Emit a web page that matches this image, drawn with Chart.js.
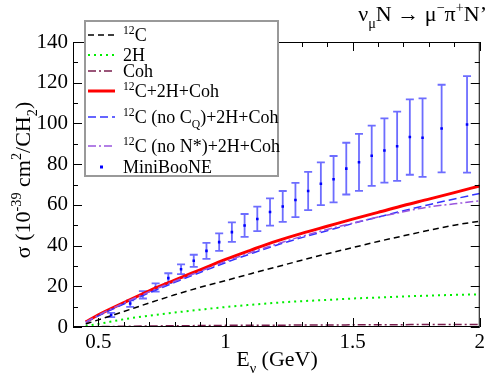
<!DOCTYPE html>
<html>
<head>
<meta charset="utf-8">
<script src="https://cdn.jsdelivr.net/npm/chart.js@4"></script>
<style>
  body { margin: 0; background: #fff; }
  #wrap { width: 488px; height: 382px; position: relative; }
</style>
</head>
<body>
<div id="wrap"><canvas id="myChart"></canvas></div>
<script>
// theory curves (sigma in 1e-39 cm^2 / CH2)
var energy   = [0.45, 0.5, 0.6, 0.7, 0.8, 0.9, 1.0, 1.1, 1.2, 1.3, 1.4, 1.5, 1.6, 1.7, 1.8, 1.9, 2.0];
var carbon   = [1.5, 3.5, 7.6, 11.8, 15.8, 19.5, 22.8, 26.2, 29.5, 32.8, 36.0, 39.0, 42.0, 44.8, 47.5, 50.0, 52.0];
var deut     = [0.5, 1.5, 3.8, 5.6, 7.1, 8.5, 9.8, 10.9, 11.9, 12.7, 13.3, 14.0, 14.5, 15.0, 15.4, 15.8, 16.0];
var coh      = [0.1, 0.2, 0.35, 0.5, 0.6, 0.7, 0.8, 0.85, 0.9, 0.95, 1.0, 1.05, 1.1, 1.15, 1.2, 1.2, 1.25];
var total    = [2.5, 6.0, 12.0, 17.8, 23.0, 28.1, 33.2, 37.8, 42.2, 46.0, 49.5, 53.0, 56.3, 59.7, 62.8, 66.0, 69.3];
var noCQ     = [2.3, 5.5, 11.3, 16.8, 21.9, 26.8, 31.6, 36.0, 40.2, 43.9, 47.3, 50.8, 54.0, 57.1, 60.1, 62.9, 65.6];
var noNstar  = [2.4, 5.8, 11.8, 17.3, 22.5, 27.3, 32.2, 36.6, 40.7, 44.5, 47.9, 51.0, 54.0, 56.6, 59.0, 60.5, 62.0];

// MiniBooNE data
var mbE     = [0.55, 0.625, 0.675, 0.725, 0.775, 0.825, 0.875, 0.925, 0.975, 1.025, 1.075, 1.125, 1.175, 1.225,
               1.275, 1.325, 1.375, 1.425, 1.475, 1.525, 1.575, 1.625, 1.675, 1.725, 1.775, 1.85, 1.95];
var mbSigma = [5.9, 11.5, 15.8, 19.4, 24.0, 28.4, 32.5, 37.4, 41.7, 46.6, 49.9, 53.1, 56.5, 59.2,
               62.4, 66.8, 70.4, 72.6, 77.8, 80.9, 84.1, 86.7, 88.8, 93.3, 93.0, 97.5, 99.5];
var mbErr   = [1.0, 1.6, 1.8, 2.0, 2.4, 2.4, 3.0, 3.9, 4.3, 4.8, 5.6, 6.0, 6.7, 7.6,
               8.4, 9.4, 10.5, 11.4, 12.7, 14.0, 14.8, 15.8, 17.0, 18.5, 19.3, 21.5, 23.7];

var xTicks = [0.5, 1, 1.5, 2];
var xTickLabels = ['0.5', '1', '1.5', '2'];
var yTicks = [0, 20, 40, 60, 80, 100, 120, 140];

var SERIF = "'Liberation Serif', 'Times New Roman', Times, serif";

function pts(ys) { return energy.map((e, i) => ({x: e, y: ys[i]})); }

var legendRows = [
  {parts: [['12', 'sup'], ['C']], color: '#000', dash: [6, 4], width: 1.5, y: 35},
  {parts: [['2H']], color: '#00ee00', dash: [2, 4], width: 2, y: 55},
  {parts: [['Coh']], color: '#7a1e4e', dash: [8, 3, 2, 3], width: 1.5, y: 71},
  {parts: [['12', 'sup'], ['C+2H+Coh']], color: '#ff0000', dash: [], width: 3, y: 91},
  {parts: [['12', 'sup'], ['C (no C'], ['Q', 'sub'], [')+2H+Coh']], color: '#3333ff', dash: [8, 4], width: 1.5, y: 117},
  {parts: [['12', 'sup'], ['C (no N*)+2H+Coh']], color: '#9955dd', dash: [8, 3, 2, 3], width: 1.5, y: 146},
  {parts: [['MiniBooNE']], color: '#0000ff', dot: true, y: 167}
];

// draw text with super/subscripts
function richWidth(ctx, parts, size) {
  var w = 0;
  parts.forEach(p => {
    ctx.font = (p[1] ? size * 0.65 : size) + 'px ' + SERIF;
    w += ctx.measureText(p[0]).width;
  });
  return w;
}
function drawRich(ctx, parts, x, y, size) {
  parts.forEach(p => {
    var s = p[1] ? size * 0.65 : size;
    ctx.font = s + 'px ' + SERIF;
    var dy = p[1] == 'sup' ? -size * 0.4 : p[1] == 'sub' ? size * 0.3 : 0;
    ctx.fillText(p[0], x, y + dy);
    x += ctx.measureText(p[0]).width;
  });
}

var decor = {
  id: 'decor',
  beforeDatasetsDraw(chart) {
    var ctx = chart.ctx, xs = chart.scales.x, ys = chart.scales.y;
    ctx.save();
    ctx.strokeStyle = 'rgba(60,60,255,0.75)';
    ctx.lineWidth = 1.8;
    mbE.forEach((e, i) => {
      var px = xs.getPixelForValue(e);
      var top = ys.getPixelForValue(mbSigma[i] + mbErr[i]);
      var bot = ys.getPixelForValue(mbSigma[i] - mbErr[i]);
      ctx.beginPath();
      ctx.moveTo(px, top); ctx.lineTo(px, bot);
      ctx.moveTo(px - 4, top); ctx.lineTo(px + 4, top);
      ctx.moveTo(px - 4, bot); ctx.lineTo(px + 4, bot);
      ctx.stroke();
    });
    ctx.restore();
  },
  afterDraw(chart) {
    var ctx = chart.ctx, a = chart.chartArea, xs = chart.scales.x, ys = chart.scales.y;
    ctx.save();
    // frame
    ctx.strokeStyle = '#000';
    ctx.lineWidth = 1;
    ctx.strokeRect(a.left + 0.5, a.top + 0.5, a.right - a.left - 1, a.bottom - a.top - 1);
    // ticks, drawn inward on all four sides
    ctx.beginPath();
    for (var v = 0.4; v <= 2.0001; v += 0.1) {
      var px = Math.round(xs.getPixelForValue(v)) + 0.5;
      var major = xTicks.some(t => Math.abs(t - v) < 1e-6);
      var len = major ? 9 : 5;
      ctx.moveTo(px, a.bottom); ctx.lineTo(px, a.bottom - len);
      ctx.moveTo(px, a.top); ctx.lineTo(px, a.top + len);
    }
    for (var w = 0; w <= 140; w += 10) {
      var py = Math.round(ys.getPixelForValue(w)) + 0.5;
      var len2 = w % 20 == 0 ? 9 : 5;
      ctx.moveTo(a.left, py); ctx.lineTo(a.left + len2, py);
      ctx.moveTo(a.right, py); ctx.lineTo(a.right - len2, py);
    }
    ctx.stroke();

    // legend box
    ctx.fillStyle = '#fff';
    ctx.fillRect(85, 21, 193, 155);
    ctx.strokeStyle = '#999';
    ctx.lineWidth = 2;
    ctx.strokeRect(85, 21, 193, 155);
    legendRows.forEach(r => {
      if (r.dot) {
        ctx.fillStyle = r.color;
        ctx.fillRect(100, r.y - 1.5, 3, 3);
      } else {
        ctx.strokeStyle = r.color;
        ctx.lineWidth = r.width;
        ctx.setLineDash(r.dash);
        ctx.beginPath();
        ctx.moveTo(88, r.y); ctx.lineTo(115, r.y);
        ctx.stroke();
        ctx.setLineDash([]);
      }
      ctx.fillStyle = '#000';
      ctx.textBaseline = 'alphabetic';
      drawRich(ctx, r.parts, 123, r.y + 6, 18);
    });

    // title
    var title = [['\u03bd'], ['\u03bc', 'sub'], ['N \u2192 \u03bc'], ['\u2212', 'sup'], ['\u03c0'], ['+', 'sup'], ['N\u2019']];
    ctx.fillStyle = '#000';
    var tw = richWidth(ctx, title, 22);
    drawRich(ctx, title, 487 - tw, 21, 22);

    // x axis title
    var xt = [['E'], ['\u03bd', 'sub'], [' (GeV)']];
    var xw = richWidth(ctx, xt, 22);
    drawRich(ctx, xt, 277 - xw / 2, 366, 22);

    // y axis title
    var yt = [['\u03c3'], [' (10'], ['-39', 'sup'], [' cm'], ['2', 'sup'], ['/CH'], ['2', 'sub'], [')']];
    ctx.translate(30, 180);
    ctx.rotate(-Math.PI / 2);
    var yw = richWidth(ctx, yt, 22);
    drawRich(ctx, yt, -yw / 2, 0, 22);
    ctx.restore();
  }
};

const ctx = document.getElementById('myChart');
var myChart = new Chart(ctx, {
  type: 'line',
  data: {
    datasets: [
      {label: '12C', data: pts(carbon), borderColor: '#000', borderWidth: 1.5, borderDash: [6, 4]},
      {label: '2H', data: pts(deut), borderColor: '#00ee00', borderWidth: 2, borderDash: [2, 4]},
      {label: 'Coh', data: pts(coh), borderColor: '#7a1e4e', borderWidth: 1.5, borderDash: [8, 3, 2, 3]},
      {label: '12C (no N*)+2H+Coh', data: pts(noNstar), borderColor: '#9955dd', borderWidth: 1.5, borderDash: [8, 3, 2, 3]},
      {label: '12C (no CQ)+2H+Coh', data: pts(noCQ), borderColor: '#3333ff', borderWidth: 1.5, borderDash: [8, 4]},
      {label: '12C+2H+Coh', data: pts(total), borderColor: '#ff0000', borderWidth: 3},
      {label: 'MiniBooNE', data: mbE.map((e, i) => ({x: e, y: mbSigma[i]})), showLine: false,
       pointStyle: 'rect', pointRadius: 1.8, pointBackgroundColor: '#0000ff', pointBorderWidth: 0}
    ].map(d => Object.assign({pointRadius: 0, cubicInterpolationMode: 'monotone', fill: false}, d))
  },
  options: {
    responsive: true,
    maintainAspectRatio: false,
    animation: false,
    layout: { padding: { top: 42, right: 5, left: 0, bottom: 0 } },
    scales: {
      x: {
        type: 'linear',
        min: 0.4,
        max: 2.0,
        afterBuildTicks: (s) => { s.ticks = xTicks.map(v => ({value: v})); },
        afterFit: (s) => { s.height = 55; },
        ticks: {
          padding: 3,
          color: '#000',
          font: { family: SERIF, size: 21 },
          callback: (v) => xTickLabels[xTicks.indexOf(v)]
        },
        grid: { display: false, drawTicks: false },
        border: { display: false }
      },
      y: {
        min: 0,
        max: 140,
        afterBuildTicks: (s) => { s.ticks = yTicks.map(v => ({value: v})); },
        afterFit: (s) => { s.width = 73; },
        ticks: {
          padding: 5,
          color: '#000',
          font: { family: SERIF, size: 21 }
        },
        grid: { display: false, drawTicks: false },
        border: { display: false }
      }
    },
    plugins: {
      legend: { display: false },
      tooltip: { enabled: false }
    }
  },
  plugins: [decor]
});
</script>
</body>
</html>
